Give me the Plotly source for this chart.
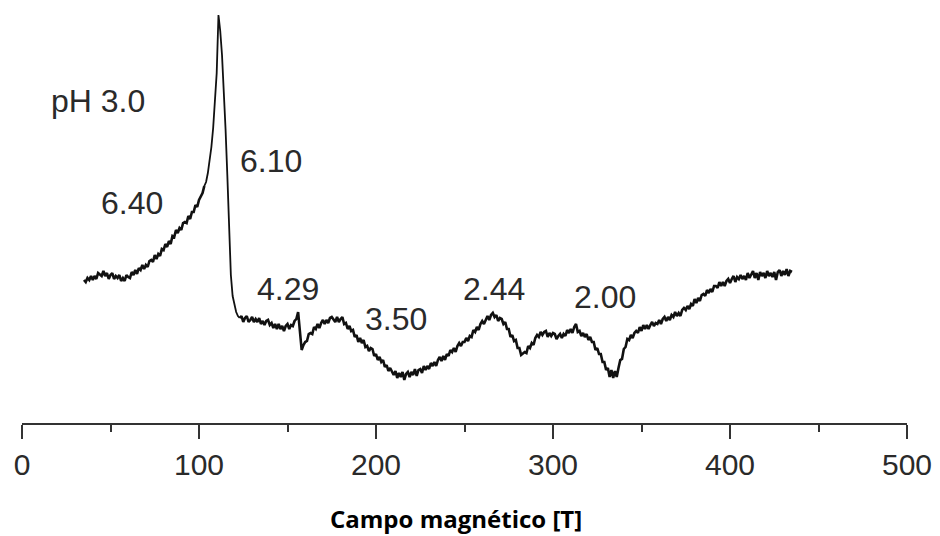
import plotly.graph_objects as go

# Magnetic field grid (one sample per unit, 35 ... 435)
field = list(range(35, 436))

# EPR signal intensity (arbitrary units), one value per field sample
intensity = [
    143, 141, 145, 143, 147, 143, 147, 144, 150, 148,   # 35-44
    147, 152, 147, 150, 144, 148, 150, 144, 147, 145,   # 45-54
    148, 142, 145, 142, 148, 146, 145, 151, 148, 153,   # 55-64
    149, 155, 153, 158, 154, 158, 156, 162, 163, 161,   # 65-74
    168, 164, 169, 167, 174, 173, 179, 176, 182, 179,   # 75-84
    187, 186, 193, 190, 195, 193, 200, 201, 200, 207,   # 85-94
    204, 211, 211, 218, 216, 223, 227, 230, 237, 241,   # 95-104
    250, 262, 276, 295, 318, 350, 408, 392, 368, 336,   # 105-114
    294, 248, 188, 148, 127, 117, 111, 107, 105, 107,   # 115-124
    101, 105, 107, 101, 103, 106, 101, 104, 101, 105,   # 125-134
    99, 102, 98, 102, 103, 98, 100, 95, 99, 94,         # 135-144
    99, 94, 97, 92, 97, 99, 94, 98, 97, 102,            # 145-154
    104, 111, 92, 73, 78, 81, 82, 89, 90, 89,           # 155-164
    96, 94, 99, 95, 100, 103, 99, 103, 100, 105,        # 165-174
    106, 103, 101, 106, 101, 104, 106, 99, 100, 94,     # 175-184
    97, 92, 93, 86, 88, 81, 85, 80, 83, 76,             # 185-194
    77, 72, 75, 74, 67, 69, 63, 66, 61, 63,             # 195-204
    56, 58, 52, 55, 52, 48, 52, 45, 50, 46,             # 205-214
    51, 43, 49, 51, 46, 51, 48, 54, 47, 53,             # 215-224
    54, 50, 57, 53, 57, 54, 60, 57, 61, 57,             # 225-234
    63, 66, 62, 67, 63, 69, 67, 73, 71, 75,             # 235-244
    71, 77, 80, 77, 81, 81, 85, 82, 87, 86,             # 245-254
    93, 91, 96, 93, 99, 102, 99, 104, 107, 103,         # 255-264
    108, 110, 106, 108, 102, 105, 104, 99, 101, 94,     # 265-274
    94, 86, 88, 82, 83, 75, 75, 68, 70, 71,             # 275-284
    70, 77, 75, 80, 78, 85, 88, 86, 91, 88,             # 285-294
    91, 92, 86, 90, 87, 90, 89, 84, 87, 89,             # 295-304
    85, 89, 87, 93, 90, 94, 90, 96, 99, 91,             # 305-314
    92, 87, 90, 86, 89, 83, 86, 81, 81, 73,             # 315-324
    75, 69, 69, 61, 61, 53, 55, 46, 53, 45,             # 325-334
    52, 46, 55, 63, 64, 74, 76, 84, 83, 88,             # 335-344
    85, 90, 92, 90, 96, 92, 98, 94, 98, 94,             # 345-354
    98, 101, 97, 100, 99, 103, 99, 104, 106, 102,       # 355-364
    106, 103, 108, 106, 111, 107, 110, 107, 113, 115,   # 365-374
    113, 117, 114, 119, 117, 124, 120, 125, 122, 128,   # 375-384
    129, 127, 133, 130, 134, 131, 137, 137, 135, 141,   # 385-394
    137, 141, 137, 142, 144, 140, 144, 147, 141, 146,   # 395-404
    144, 148, 144, 147, 143, 150, 145, 149, 152, 145,   # 405-414
    150, 143, 151, 147, 150, 145, 152, 147, 150, 146,   # 415-424
    151, 143, 151, 153, 147, 152, 148, 154, 147, 152,   # 425-434
    151,                                                # 435
]

# Peak labels (g-values) and their placement
label_text = ["pH 3.0", "6.40", "6.10", "4.29", "3.50", "2.44", "2.00"]
label_x = [43.1, 62.2, 140.7, 150.3, 211.2, 266.5, 329.2]
label_y = [322, 220, 262, 134, 104, 134, 126]

# The sharp g=6 line is drawn thinner than the noisy baseline segments
peak_lo, peak_hi = 103, 123
i_lo, i_hi = field.index(peak_lo), field.index(peak_hi)
segments = [
    (field[:i_lo + 1], intensity[:i_lo + 1], 2.6),
    (field[i_lo:i_hi + 1], intensity[i_lo:i_hi + 1], 1.8),
    (field[i_hi:], intensity[i_hi:], 2.6),
]

fig = go.Figure()
for xs, ys, w in segments:
    fig.add_trace(go.Scatter(
        x=xs, y=ys, mode="lines",
        line=dict(color="#111111", width=w),
        hoverinfo="skip", showlegend=False,
    ))

for t, lx, ly in zip(label_text, label_x, label_y):
    fig.add_annotation(
        x=lx, y=ly, xref="x", yref="y", text=t, showarrow=False,
        xanchor="center", yanchor="middle",
        font=dict(family="Liberation Sans, Arial, sans-serif", size=32, color="#2a2a2a"),
    )

fig.add_annotation(
    x=(456 - 22) / 885, y=(423 - 518) / 418, xref="paper", yref="paper",
    text="<b>Campo magnético [T]</b>", showarrow=False,
    xanchor="center", yanchor="middle",
    font=dict(family="Open Sans, sans-serif", size=24, color="#000000"),
)

fig.update_layout(
    width=940, height=536,
    margin=dict(l=22, r=33, t=5, b=113),
    plot_bgcolor="white", paper_bgcolor="white",
    xaxis=dict(
        range=[0, 500], showgrid=False, zeroline=False,
        showline=True, linecolor="#333333", linewidth=2,
        ticks="outside", ticklen=14, tickwidth=2, tickcolor="#333333",
        tick0=0, dtick=100,
        minor=dict(ticks="outside", ticklen=7, tickwidth=2, tickcolor="#333333", dtick=50, showgrid=False),
        tickfont=dict(family="Liberation Sans, Arial, sans-serif", size=30, color="#2a2a2a"),
    ),
    yaxis=dict(range=[0, 418], visible=False, showgrid=False, zeroline=False),
)

fig.write_html("out.html")
